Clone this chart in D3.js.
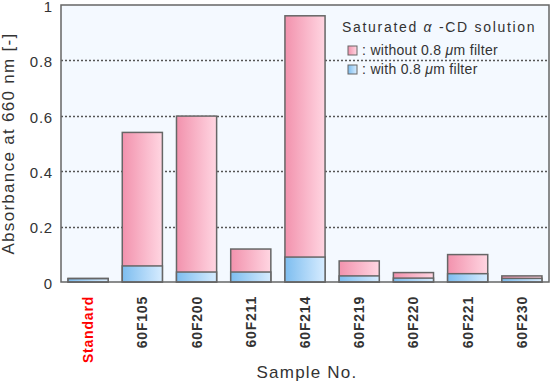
<!DOCTYPE html>
<html><head><meta charset="utf-8">
<script src="https://cdn.jsdelivr.net/npm/d3@7"></script>
<style>body{margin:0;background:#fff;} text{font-family:"Liberation Sans",Arial,sans-serif;}</style>
</head><body>
<svg id="c" width="551" height="382"></svg>
<script>
const categories = ["Standard","60F105","60F200","60F211","60F214","60F219","60F220","60F221","60F230"];
const withoutFilter = [0.013,0.540,0.599,0.119,0.961,0.076,0.034,0.099,0.022];
const withFilter    = [0.012,0.058,0.036,0.036,0.090,0.022,0.014,0.030,0.013];
const yTicks = [0,0.2,0.4,0.6,0.8,1];
const yTickLabels = ["0","0.2","0.4","0.6","0.8","1"];
const gridTicks = [0.2,0.4,0.6,0.8];

const svg = d3.select("#c");
const L=61, R=549, T=5, B=282;
const x = d3.scaleBand().domain(categories).range([L,R]).paddingInner(0.26).paddingOuter(0.13);
const y = d3.scaleLinear().domain([0,1]).range([B,T]);

const defs = svg.append("defs");
function grad(id,c1,c2){const g=defs.append("linearGradient").attr("id",id).attr("x1","0%").attr("x2","100%").attr("y1","0%").attr("y2","0%");
 g.append("stop").attr("offset","0%").attr("stop-color",c1); g.append("stop").attr("offset","100%").attr("stop-color",c2);}
grad("pink","#f292ad","#ffd6e2");
grad("blue","#7dbdef","#d7ecff");

svg.append("rect").attr("x",L).attr("y",T).attr("width",R-L).attr("height",B-T).attr("fill","#f4f9ff");

svg.append("g").selectAll("line").data(gridTicks).join("line")
 .attr("x1",L).attr("x2",R).attr("y1",d=>Math.round(y(d))+0.5).attr("y2",d=>Math.round(y(d))+0.5)
 .attr("stroke","#555").attr("stroke-width",1.5).attr("stroke-dasharray","2,2");

const lg = svg.append("g");
const t1 = lg.append("text").attr("x",342).attr("y",32).attr("font-size",14).attr("letter-spacing",1.7).attr("fill","#333");
t1.append("tspan").text("Saturated ");
t1.append("tspan").attr("font-style","italic").text("α");
t1.append("tspan").text(" -CD solution");
const legItems=[{f:"pink",t:"without"},{f:"blue",t:"with"}];
legItems.forEach((d,i)=>{
  const yy = 46 + i*19;
  lg.append("rect").attr("x",348).attr("y",yy).attr("width",9).attr("height",9).attr("fill","url(#"+d.f+")").attr("stroke","#666").attr("stroke-width",1);
  const tt = lg.append("text").attr("x",362).attr("y",yy+9).attr("font-size",14).attr("letter-spacing",0.3).attr("fill","#333");
  tt.append("tspan").text(": "+d.t+" 0.8 ");
  tt.append("tspan").attr("font-style","italic").text("μ");
  tt.append("tspan").text("m filter");
});

const bars = svg.append("g");
bars.selectAll("rect.p").data(categories).join("rect").attr("class","p")
 .attr("x",d=>x(d)).attr("width",x.bandwidth())
 .attr("y",(d,i)=>y(withoutFilter[i])).attr("height",(d,i)=>B-y(withoutFilter[i]))
 .attr("fill","url(#pink)").attr("stroke","#666").attr("stroke-width",1.5);
bars.selectAll("rect.b").data(categories).join("rect").attr("class","b")
 .attr("x",d=>x(d)).attr("width",x.bandwidth())
 .attr("y",(d,i)=>y(withFilter[i])).attr("height",(d,i)=>B-y(withFilter[i]))
 .attr("fill","url(#blue)").attr("stroke","#666").attr("stroke-width",1.5);

svg.append("rect").attr("x",L).attr("y",T).attr("width",R-L).attr("height",B-T).attr("fill","none").attr("stroke","#666").attr("stroke-width",1.5);

const yAxis = d3.axisLeft(y).tickValues(yTicks).tickFormat((d,i)=>yTickLabels[i]).tickSize(0).tickPadding(8);
const ya = svg.append("g").attr("transform",`translate(${L},0)`).call(yAxis);
ya.select(".domain").remove();
ya.selectAll("text").attr("font-size",15).attr("letter-spacing",0.8).attr("fill","#333").attr("font-family","Liberation Sans, Arial, sans-serif").attr("dy","0.42em");

const xAxis = d3.axisBottom(x).tickSize(0).tickPadding(0);
const xa = svg.append("g").attr("transform",`translate(0,${B})`).call(xAxis);
xa.select(".domain").remove();
xa.selectAll("text").attr("transform","rotate(-90)").attr("text-anchor","end")
 .attr("x",-14).attr("y",0).attr("dy","0.36em").attr("font-size",14).attr("font-weight","bold")
 .attr("letter-spacing",0.8).attr("font-family","Liberation Sans, Arial, sans-serif")
 .attr("fill",d=>d==="Standard"?"#f00":"#333");

svg.append("text").attr("transform",`translate(14,${(T+B)/2}) rotate(-90)`).attr("text-anchor","middle")
 .attr("font-size",17).attr("letter-spacing",1.3).attr("fill","#333").text("Absorbance at 660 nm [-]");
svg.append("text").attr("x",(L+R)/2+2).attr("y",378).attr("text-anchor","middle")
 .attr("font-size",17).attr("letter-spacing",1.2).attr("fill","#333").text("Sample No.");
</script>
</body></html>
